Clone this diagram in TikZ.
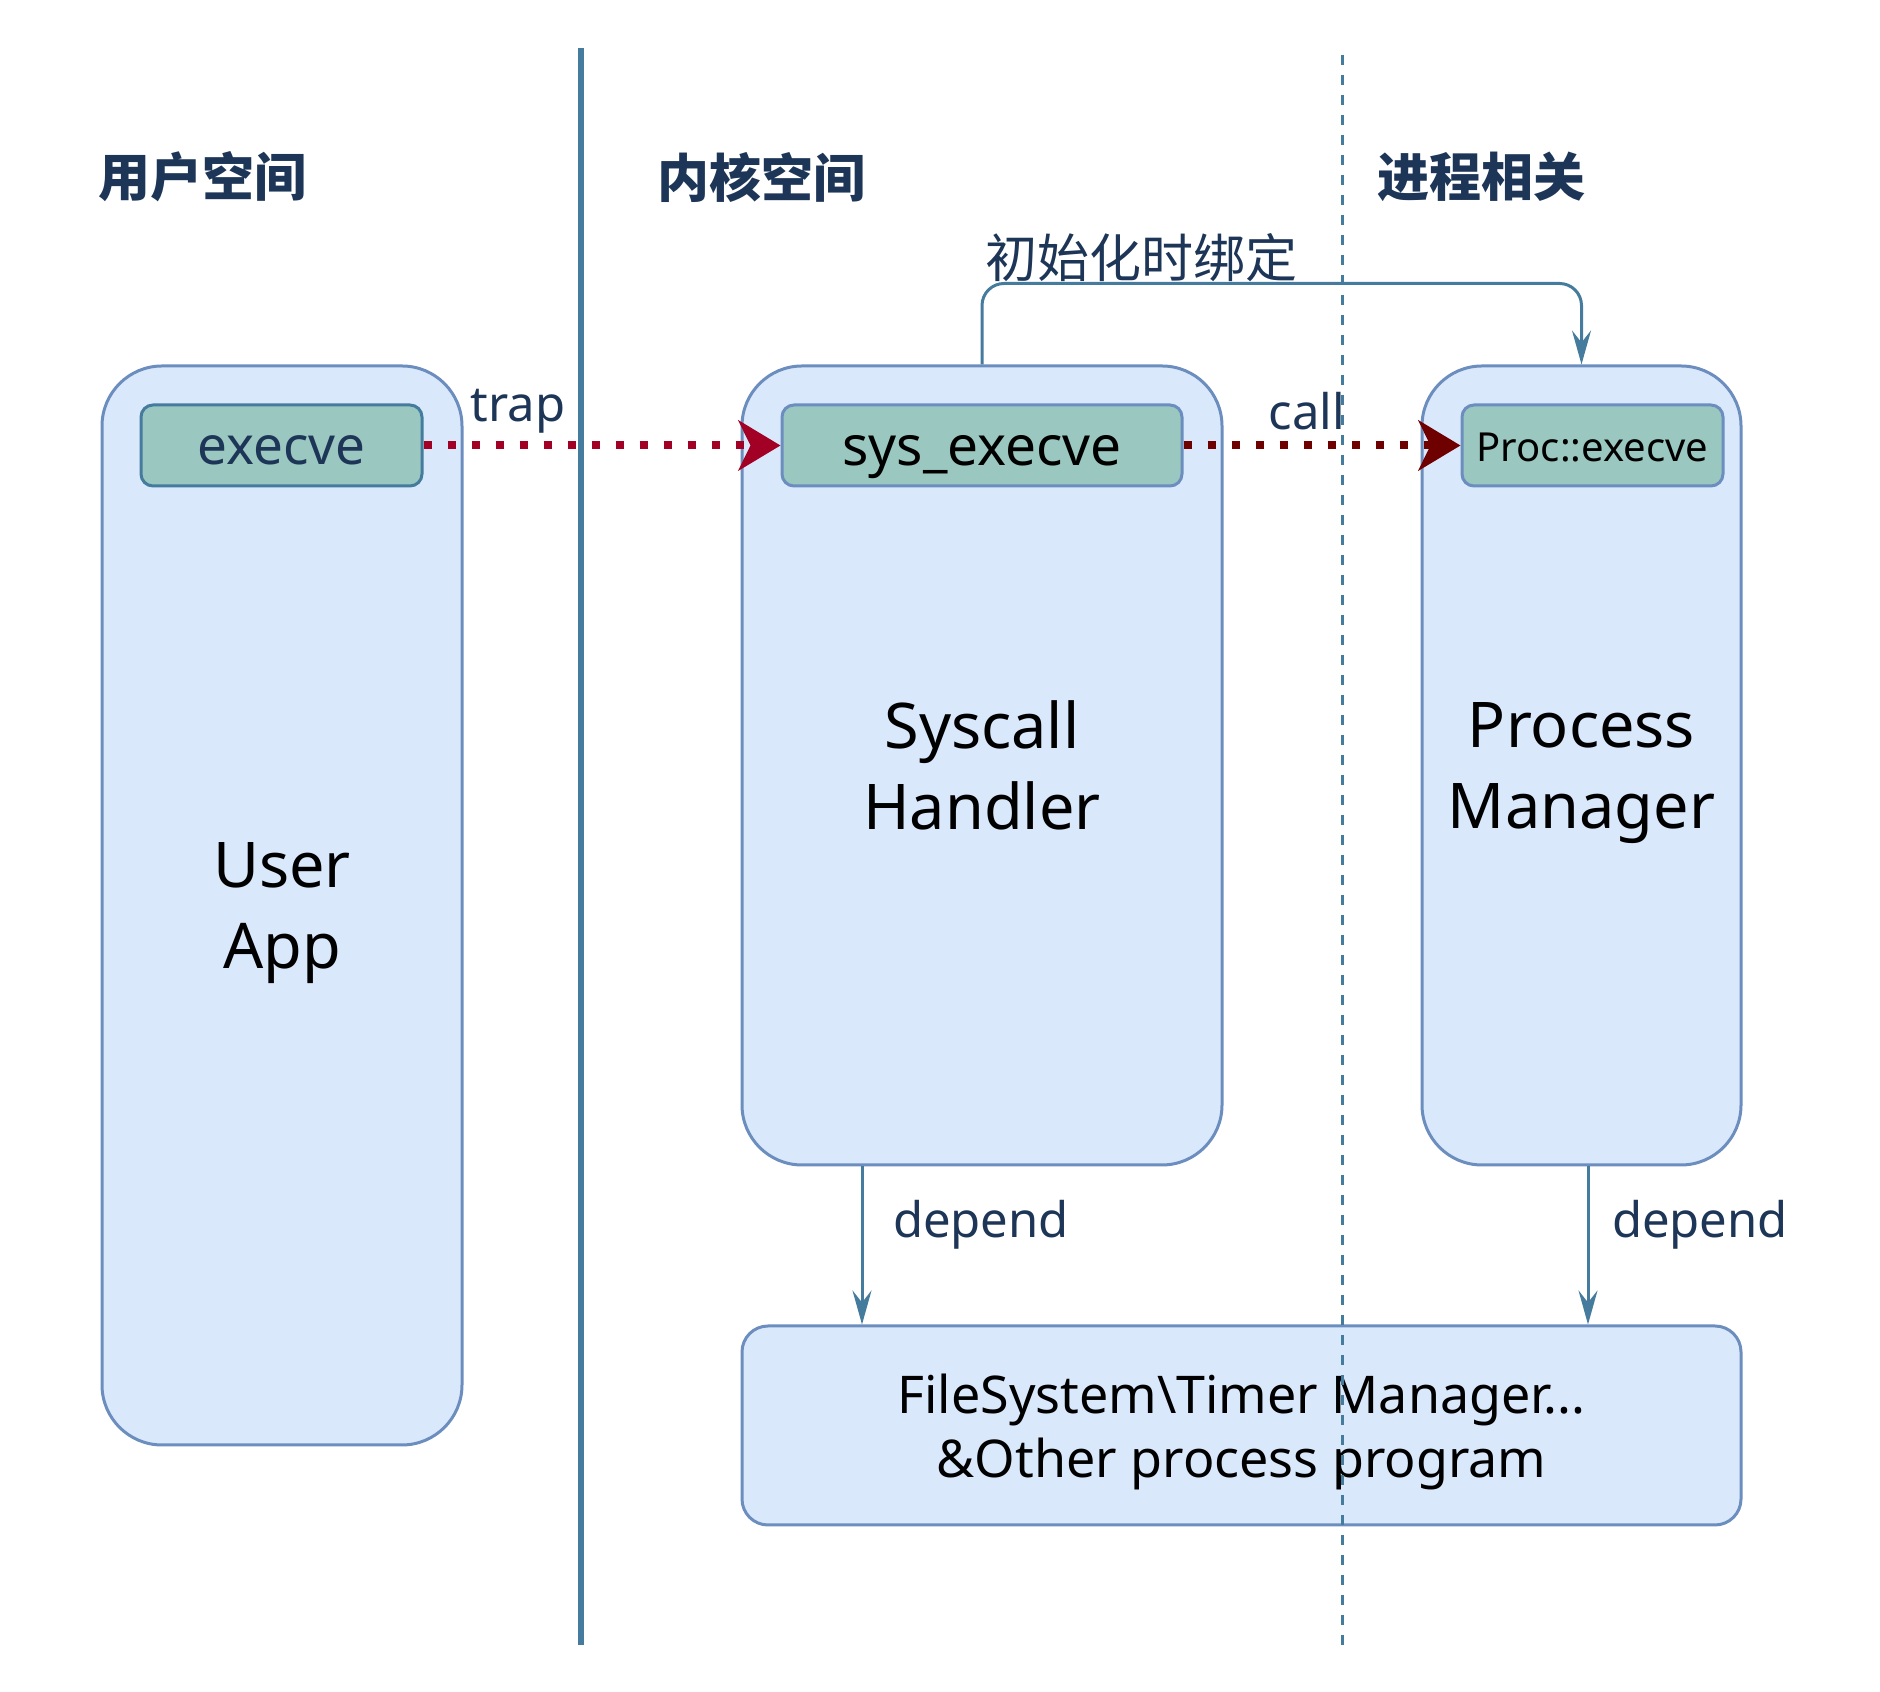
\documentclass[tikz,border=0pt]{standalone}
\usepackage{fontspec}
\setmainfont{Noto Sans}
\newfontfamily\cjk{Noto Sans CJK SC}
\usetikzlibrary{arrows.meta,positioning}
\definecolor{boxfill}{HTML}{DAE8FC}
\definecolor{boxline}{HTML}{6C8EBF}
\definecolor{funcfill}{HTML}{9AC7BF}
\definecolor{steel}{HTML}{457B9D}
\definecolor{navy}{HTML}{1D3557}
\definecolor{trapred}{HTML}{A20025}
\definecolor{callred}{HTML}{6F0000}

\begin{document}
\begin{tikzpicture}
[x=1pt,y=1pt,
 bigbox/.style={draw=boxline,fill=boxfill,line width=3pt,rounded corners=60pt,inner sep=0pt,align=center,text depth=0pt,font=\fontsize{63}{81}\selectfont},
 func/.style={draw=boxline,fill=funcfill,line width=3pt,rounded corners=12pt,inner sep=0pt,minimum height=81pt,text depth=0pt},
 head/.style={text=navy,font=\cjk\bfseries\fontsize{52}{60}\selectfont},
 lbl/.style={text=navy,font=\fontsize{49}{56}\selectfont},
 dep/.style={draw=steel,line width=3pt,-{Stealth[length=34pt,width=19pt,inset=12pt]}},
 dots/.style={line width=8pt,line cap=butt,dash pattern=on 8pt off 16pt}]
\useasboundingbox (0,0) rectangle (1880,1692);

% separators
\draw[steel,line width=6pt] (581,47) -- (581,1644);

\node[head] (hu) at (202,1515) {用户空间};
\node[head] (hk) at (761,1515) {内核空间};
\node[head] (hp) at (1481,1515) {进程相关};

\node[bigbox,minimum width=360pt,minimum height=1079pt] (ua) at (282,786.5) {User\\App};
\node[bigbox,minimum width=480pt,minimum height=799pt] (sh) at (982,926.5) {Syscall\\Handler};
\node[bigbox,minimum width=319pt,minimum height=799pt] (pm) at (1581.5,926.5) {Process\\Manager};
\node[bigbox,rounded corners=26pt,minimum width=999pt,minimum height=199pt,font=\fontsize{52}{64}\selectfont] (fs) at (1241.5,266.5)
  {FileSystem\textbackslash Timer Manager...\\\&Other process program};

\node[func,draw=steel,minimum width=281pt,text height=39pt,text=navy,font=\fontsize{53}{58}\selectfont] (ue) at (281.5,1246.5) {execve};
\node[func,minimum width=400pt,text height=40pt,font=\fontsize{55}{60}\selectfont] (se) at (982,1246.5) {sys\_execve};
\node[func,minimum width=261pt,text height=32pt,font=\fontsize{40}{46}\selectfont] (pe) at (1592.5,1246.5) {Proc::execve};

\node[lbl] (trap) at (518,1281) {trap};
\node[lbl] (call) at (1307,1281) {call};
\node[lbl] (dl) at (981,467) {depend};
\node[lbl] (dr) at (1700,467) {depend};
\node[text=navy,font=\cjk\fontsize{52}{60}\selectfont] (bind) at (1141,1434) {初始化时绑定};

\draw[dots,trapred,-{Stealth[length=42pt,width=50pt,inset=12pt]}] (ue) -- (se);
\draw[dots,callred,-{Stealth[length=42pt,width=50pt,inset=12pt]}] (se) -- (pe);

\draw[dep,rounded corners=22pt] (sh.north) -- ++(0,81) -| (pm.north);

\coordinate (d1) at (862,0);
\coordinate (d2) at (1588,0);
\draw[dep] (d1 |- sh.south) -- (d1 |- fs.north);
\draw[dep] (d2 |- pm.south) -- (d2 |- fs.north);

\draw[steel,line width=3pt,dash pattern=on 10pt off 10pt] (1342,47) -- (1342,1644);
\end{tikzpicture}
\end{document}
